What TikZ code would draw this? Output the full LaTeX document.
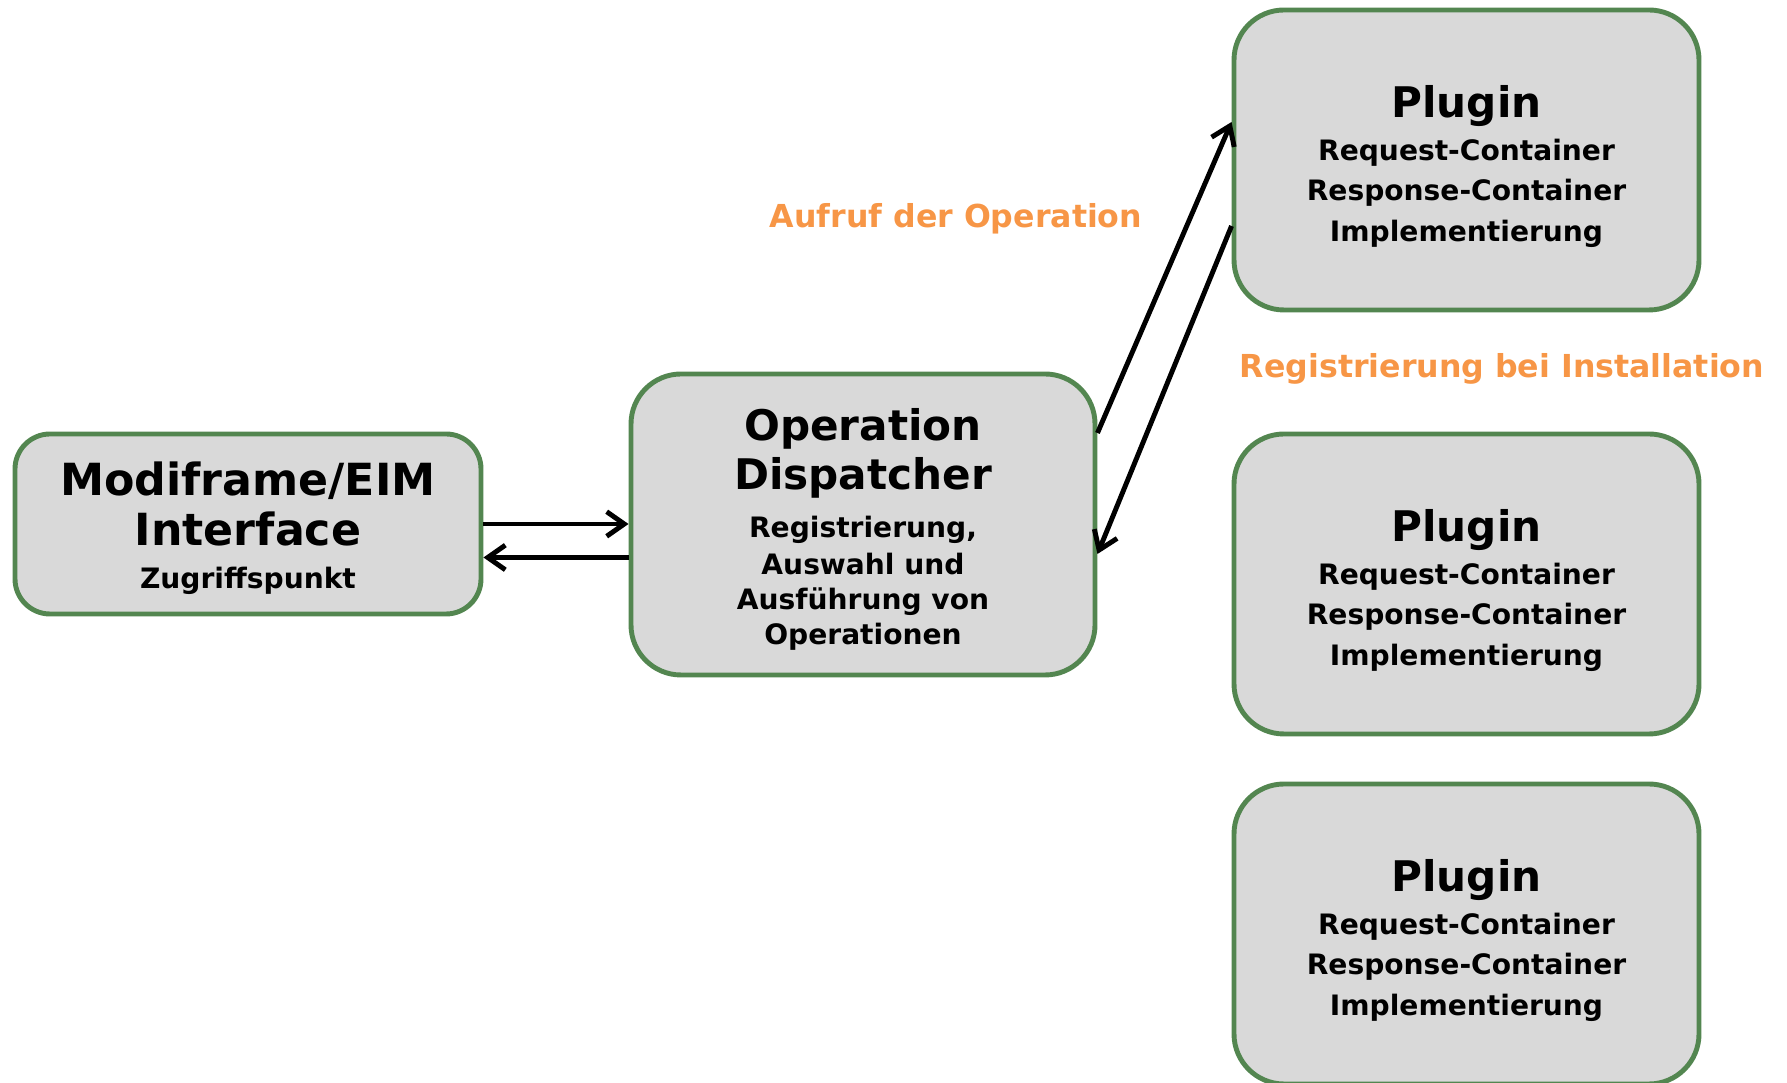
\documentclass[tikz,border=0pt]{standalone}
\usepackage{fontspec}
\setmainfont{DejaVu Sans}
\usetikzlibrary{positioning}
\usetikzlibrary{arrows.meta}
\definecolor{boxgreen}{RGB}{83,134,80}
\definecolor{boxgray}{RGB}{217,217,217}
\definecolor{lblorange}{RGB}{247,150,70}
\newcommand{\fixskip}{\lineskiplimit=-20pt\relax}
\newcommand{\titlef}{\fontsize{12}{14}\selectfont}
\newcommand{\topgap}[1]{\rule{0pt}{#1}}

\begin{document}
\begin{tikzpicture}[
  box/.style={draw=boxgreen, fill=boxgray, line width=1.4pt, rounded corners=5mm, align=center, inner sep=0pt},
  plugbox/.style={box, minimum width=4.65cm, minimum height=3.00cm, font=\fontsize{8}{11.5}\selectfont\bfseries\fixskip},
  arr/.style={line width=1.4pt, -{Straight Barb[length=5pt,width=7pt]}},
  lbl/.style={text=lblorange, font=\fontsize{9}{11}\selectfont\bfseries}
]
\useasboundingbox (0,0) rectangle (17.87,10.83);

\node[box, rounded corners=3.5mm, minimum width=4.66cm, minimum height=1.80cm, font=\fontsize{8}{10}\selectfont\bfseries\fixskip] (mod) at (2.48,5.59)
  {\topgap{12pt}{\fontsize{12.6}{14}\selectfont Modiframe/EIM}\\[4.2pt]{\fontsize{12.6}{14}\selectfont Interface}\\[2.4pt]Zugriffspunkt};

\node[box, minimum width=4.64cm, minimum height=3.01cm, font=\fontsize{8}{10}\selectfont\bfseries\fixskip] (disp) at (8.63,5.585)
  {\topgap{11.8pt}{\titlef Operation}\\[4.2pt]{\titlef Dispatcher}\\[3.6pt]Registrierung,\\[0.4pt]Auswahl und\\Ausführung von\\Operationen};

\node[plugbox] (plug1) at (14.665,9.23)
  {\topgap{12.6pt}{\titlef Plugin}\\[0.8pt]Request-Container\\Response-Container\\Implementierung};
\node[plugbox] (plug2) at (14.665,4.99)
  {\topgap{12.6pt}{\titlef Plugin}\\[0.8pt]Request-Container\\Response-Container\\Implementierung};
\node[plugbox] (plug3) at (14.665,1.49)
  {\topgap{12.6pt}{\titlef Plugin}\\[0.8pt]Request-Container\\Response-Container\\Implementierung};

\node[lbl] (lblcall) at (9.56,8.64) {Aufruf der Operation};
\node[lbl] (lblreg) at (15.02,7.14) {Registrierung bei Installation};

\draw[arr] (mod.east) -- (mod.east -| disp.west);
\draw[arr] ([yshift=-3.3mm]disp.west) -- ([yshift=-3.3mm]disp.west -| mod.east);
\draw[arr] ([yshift=9.15mm]disp.east) -- ([yshift=3.8mm]plug1.west);
\draw[arr] ([yshift=-6.6mm]plug1.west) -- ([yshift=-2.95mm]disp.east);

\end{tikzpicture}
\end{document}
